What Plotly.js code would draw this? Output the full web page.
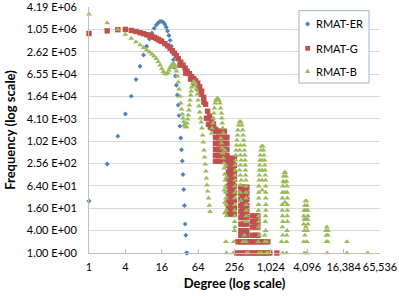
<!DOCTYPE html>
<html>
<head>
<meta charset="utf-8">
<script src="https://cdn.plot.ly/plotly-3.0.1.min.js"></script>
<style>html,body{margin:0;padding:0;background:#fff;}#chart{width:399px;height:296px;}</style>
</head>
<body>
<div id="chart"></div>
<script>
// ---------- tick labels ----------
const xTickVals = [1, 4, 16, 64, 256, 1024, 4096, 16384, 65536];
const xTickText = ['1', '4', '16', '64', '256', '1,024', '4,096', '16,384', '65,536'];
const yTickVals = [1, 4, 16, 64, 256, 1024, 4096, 16384, 65536, 262144, 1048576, 4194304];
const yTickText = ['1.00 E+00', '4.00 E+00', '1.60 E+01', '6.40 E+01', '2.56 E+02', '1.02 E+03',
                   '4.10 E+03', '1.64 E+04', '6.55 E+04', '2.62 E+05', '1.05 E+06', '4.19 E+06'];
const seriesNames = ['RMAT-ER', 'RMAT-G', 'RMAT-B'];

// ---------- RMAT-ER ----------
const erDeg = [1,2,3,4,5,6,7,8,9,10,11,12,13,14,15,16,17,18,19,20,21,22,23,24,25,26,27,28,29,30,31,32,33,34,35,36,37,38,39,40,41,42];
const erCnt = [25,250,1400,5500,16700,47000,107000,215000,370000,580000,840000,1120000,1380000,1580000,1700000,1720000,1620000,1430000,1200000,950000,720000,530000,370000,250000,160000,98000,58000,33000,18000,9600,5000,2600,1250,600,300,130,51,19,6,3,1,1];

// ---------- RMAT-G ----------
const gCurveDeg = [1,2,3,4,5,6,7,8,9,10,11,12,13,14,15,16,18,20,22,24,26,28,30,33,36,39,42,46,50,54,58,63,68,73,79,85,92,99,107,115,124];
const gCurveCnt = [812000,955000,1030000,1045000,980000,921000,854000,803000,755000,718000,675000,638000,600000,560000,526000,495000,432000,377000,323000,280000,240000,205000,170000,137000,114000,94500,78500,67200,55800,49300,43500,37300,30000,22700,15600,10100,6560,4810,3750,2930,2150];
const gStrandDeg = [32,40,48,56,64,72,80,88,95,102,110];
const gStrandCnt = [114000,69300,47800,36200,26500,18800,11500,4250,2930,2433,2287];
const gStepDeg = [
  124,139,155,174,
  124,139,155,174,192,
  124,139,155,174,192,
  124,139,155,174,192,
  124,139,155,174,192,
  124,139,155,174,192,
  203,227,255, 215,241, 203,227,255, 215,241, 203,227,255, 215,241, 203,227,255, 215,241,
  203,227,255, 215,241, 203,227,255, 215,241, 203,227,255, 215,241, 203,227,255, 215,241, 203,227,255,
  326,366,410, 345,387, 326,366,410, 345,387, 326,366,410, 345,387, 326,366,410, 345,387,
  326,366,410, 345,387, 326,366,410, 326,366,410, 326,366,410, 326,366,410,
  506,567,623, 506,567,623, 506,567,623, 506,567,623
];
const gStepCnt = [
  1899,1899,1899,1899,
  1307,1307,1307,1307,1307,
  901,901,901,901,901,
  622,622,622,622,622,
  428,428,428,428,428,
  295,295,295,295,295,
  356,356,356, 286,286, 230,230,230, 185,185, 149,149,149, 120,120, 97,97,97, 78,78,
  63,63,63, 50,50, 41,41,41, 33,33, 26,26,26, 21,21, 17,17,17, 14,14, 11,11,11,
  59,59,59, 49,49, 41,41,41, 34,34, 28,28,28, 23,23, 19,19,19, 16,16,
  13,13,13, 11,11, 9,9,9, 6,6,6, 4,4,4, 3,3,3,
  10,10,10, 7,7,7, 5,5,5, 3,3,3
];
const gTwoDeg = [291,326,366,410,460,515,578,648,726,814,912];
const gTwoCnt = [2,2,2,2,2,2,2,2,2,2,2];
const gOneDeg = [280,314,352,395,442,496,556,623,699,783,878,984,1287];
const gOneCnt = [1,1,1,1,1,1,1,1,1,1,1,1,1];

// ---------- RMAT-B ----------
const bHeadDeg = [1,2,3,4,5,6,7,8,9,10,11,12,13,14,15,16,17,18,19,20,21,22,23,24,25,26,27,28,29,30,31,32,33,34,35,36,37,38,39,40,41,42,43,44,45,46,47,48,49,50,52,54,56,58,60,62,64,66,68,70,72,74,76,78,80,82,84,86,88,90,92,95,98,101];
const bHeadCnt = [2690000,1570000,1050000,765000,597000,483000,398000,337000,292000,255000,225000,199000,170000,141000,114000,91700,76100,67200,65200,71500,83500,97600,110000,121000,125000,117000,100000,78500,57500,39600,25700,16600,10800,7430,5450,4250,3421,2840,2588,2433,2510,3115,3993,5120,6980,9520,12990,17700,22700,29100,37300,40900,38500,32900,25700,18800,12990,8950,6170,4250,3320,2287,1480,959,584,378,245,159,103,67,46,30,19,13];
const bPeakCDeg = [126,131,136,141,123,147,119,151,117,156,115,158,111.5,161,109,164,106.5,167,152,156,160,163,167,171,173,176,179,181.5,183.6,185,186.6,188,188.6,184,189,177,184,188,174,177,177];
const bPeakCCnt = [12990,14250,14250,12990,10780,10780,7910,7910,5790,5790,4250,4250,3120,3120,2287,2287,1677,1677,1229,901,661,485,356,261,191,132,91,63,43,30,20,14,10,2,1,584,230,109,49,23,12];
const bPeakDDeg = [309,326,299,339,291,348,287,356,280,363,276,368.5,273,374,270,378.5,267.6,383,265.6,385.7,264.6,388.7,263.6,391.6,262.6,394.7,261.6,396,260.6,397.7,259.6,399,259.6,400.7,257.6,402,259.6,402,256.6,399,259.6,254.7,372.7,250,395,243.4,405.4,320,320,320,320,320,356,432,312,330,312,330,318,325];
const bPeakDCnt = [3381,3381,2753,2753,2020,2020,1480,1480,1085,1085,796,796,584,584,428,428,314,314,230,230,169,169,124,124,91,91,63,63,43,43,30,30,20,20,14,14,10,10,7,7,5,4,3,2,2,1,1,796,428,230,124,67,2,1,584,314,169,91,43,26];
const bPeakEDeg = [717.6,754,698.7,774.4,685.5,789.2,675.2,801.3,667.5,810.5,662.5,819.8,657.4,826,652.4,832.4,647.5,838.7,645.1,842,642.6,845.2,640.1,845.2,637.7,845.2,640.1,838.7,647.5,829.2,635.3,838.7,659.9,813.6,630.5,813.6,654.9,868,734,734,734,734,868,923,718];
const bPeakECnt = [748,748,584,584,428,428,314,314,230,230,169,169,124,124,91,91,63,63,43,43,30,30,20,20,14,14,10,10,7,7,5,4,3,3,2,2,1,1,314,169,91,49,2,1,1];
const bPeakFDeg = [1712,1779,1667,1826,1636,1861,1617,1883,1598,1905,1586,1919,1580,1927,1580,1927,1592,1912,1617,1919,1586,1897,1617,1883,1538,1861,1598,1861,1745,1745,1745];
const bPeakFCnt = [145,145,116,116,85,85,63,63,43,43,30,30,20,20,14,14,10,10,7,7,5,4,3,3,2,2,1,1,80,43,23];
const bPeakGDeg = [3809,3957,3709,4064,3639,4142,3598,4190,3625,4158,3598,4190,3882,3667,4110,3737,3598,4033,3667,4033,3882,3882];
const bPeakGCnt = [25,25,19,19,14,14,10,10,8,8,6,6,5,4,4,3,2,2,1,1,14,8];
const bTailDeg = [8638,8378,9041,8475,8973,8475,8973,8737,18600,18600,41160];
const bTailCnt = [5,4,4,3,3,2,2,1,2,1,1];

// ---------- assemble ----------
const gDeg = [].concat(gCurveDeg, gStrandDeg, gStepDeg, gTwoDeg, gOneDeg);
const gCnt = [].concat(gCurveCnt, gStrandCnt, gStepCnt, gTwoCnt, gOneCnt);
const bDeg = [].concat(bHeadDeg, bPeakCDeg, bPeakDDeg, bPeakEDeg, bPeakFDeg, bPeakGDeg, bTailDeg);
const bCnt = [].concat(bHeadCnt, bPeakCCnt, bPeakDCnt, bPeakECnt, bPeakFCnt, bPeakGCnt, bTailCnt);

const colors = ['#4F81BD', '#C0504D', '#9BBB59'];
const FONT = 'Lato, "Open Sans", sans-serif';

const traces = [
  {type: 'scatter', mode: 'markers', name: seriesNames[0], x: erDeg, y: erCnt, cliponaxis: false,
   marker: {symbol: 'diamond', size: 3.8, color: colors[0]}},
  {type: 'scatter', mode: 'markers', name: seriesNames[1], x: gDeg, y: gCnt, cliponaxis: false,
   marker: {symbol: 'square', size: 5.4, color: colors[1]}},
  {type: 'scatter', mode: 'markers', name: seriesNames[2], x: bDeg, y: bCnt, cliponaxis: false,
   marker: {symbol: 'triangle-up', size: 5.2, color: colors[2]}}
];

// legend drawn by hand (Excel-style compact legend)
const legX0 = 0.7216, legX1 = 0.9622, legY0 = 0.691, legY1 = 0.985;
const symX = 0.7515, txtX = 0.7732;
const rowY = [0.9309, 0.8321, 0.7398];
const symPaths = [
  'M0,2.6 L2.6,0 L0,-2.6 L-2.6,0 Z',
  'M-2.4,-2.4 L2.4,-2.4 L2.4,2.4 L-2.4,2.4 Z',
  'M-2.7,-2 L2.7,-2 L0,2.6 Z'
];
const shapes = [{type: 'rect', xref: 'paper', yref: 'paper', x0: legX0, x1: legX1, y0: legY0, y1: legY1,
                 line: {color: '#9DB3CF', width: 1}, fillcolor: '#ffffff', layer: 'above'}];
const annotations = [];
for (let i = 0; i < 3; i++) {
  shapes.push({type: 'path', xref: 'paper', yref: 'paper', xsizemode: 'pixel', ysizemode: 'pixel',
               xanchor: symX, yanchor: rowY[i], path: symPaths[i], fillcolor: colors[i],
               line: {width: 0}, layer: 'above'});
  annotations.push({xref: 'paper', yref: 'paper', x: txtX, y: rowY[i], xanchor: 'left', yanchor: 'middle',
                    text: seriesNames[i], showarrow: false, font: {family: FONT, size: 11, color: '#000'}});
}

const layout = {
  width: 399, height: 296,
  margin: {l: 89, r: 19, t: 7, b: 43, pad: 0},
  paper_bgcolor: '#ffffff', plot_bgcolor: '#ffffff',
  showlegend: false,
  font: {family: FONT, size: 11, color: '#000'},
  xaxis: {
    type: 'log', range: [0, Math.log10(65536) + 1e-4],
    tickmode: 'array', tickvals: xTickVals, ticktext: xTickText,
    tickangle: 0, ticklabeloverflow: 'allow',
    showgrid: false, zeroline: false, showline: true, linecolor: '#BFBFBF', linewidth: 1,
    ticks: 'inside', ticklen: 4, tickcolor: '#BFBFBF', tickwidth: 1,
    ticklabelstandoff: 4,
    tickfont: {family: FONT, size: 11, color: '#000'},
    title: {text: 'Degree (log scale)', font: {family: FONT, size: 13, color: '#000', weight: 'bold'}, standoff: 6}
  },
  yaxis: {
    type: 'log', range: [0, Math.log10(4194304) + 1e-4],
    tickmode: 'array', tickvals: yTickVals, ticktext: yTickText,
    ticklabeloverflow: 'allow',
    showgrid: true, gridcolor: '#D9D9D9', gridwidth: 1,
    zeroline: false, showline: true, linecolor: '#BFBFBF', linewidth: 1,
    ticks: '', ticklabelstandoff: 9,
    tickfont: {family: FONT, size: 11, color: '#000'},
    title: {text: 'Frequency (log scale)', font: {family: FONT, size: 13, color: '#000', weight: 'bold'}, standoff: 8}
  },
  shapes: shapes,
  annotations: annotations
};

Plotly.newPlot('chart', traces, layout, {staticPlot: true, displayModeBar: false});
</script>
</body>
</html>
